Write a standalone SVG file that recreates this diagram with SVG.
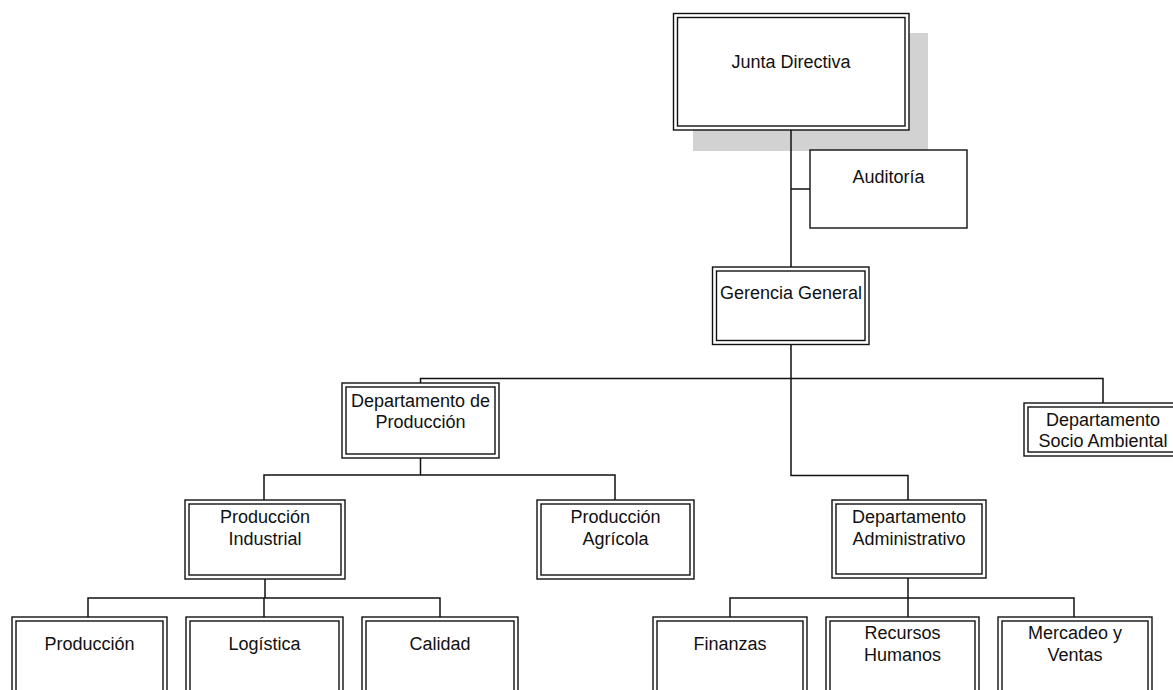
<svg xmlns="http://www.w3.org/2000/svg" width="1173" height="690" viewBox="0 0 1173 690">
  <style>
    .bg { fill: #ffffff; }
    .box { fill: #ffffff; stroke: #111111; stroke-width: 1.4; }
    .inner { fill: none; stroke: #111111; stroke-width: 1.4; }
    .shadow { fill: #d2d2d2; stroke: none; }
    .conn { fill: none; stroke: #111111; stroke-width: 1.5; }
    text { font-family: "Liberation Sans", Arial, sans-serif; font-size: 18px; fill: #111111; text-anchor: middle; }
  </style>
  <rect class="bg" x="0" y="0" width="1173" height="690"/>

  <!-- shadow behind the board box -->
  <rect class="shadow" x="693" y="33" width="235" height="118"/>

  <!-- connectors -->
  <g id="connectors">
    <path class="conn" d="M791,130 V267"/>
    <path class="conn" d="M791,189 H810"/>
    <path class="conn" d="M791,344 V475.5 H908 V500"/>
    <path class="conn" d="M420.5,383 V378.5 H1103 V403"/>
    <path class="conn" d="M420.5,458 V475 M264,500 V475 H615 V500"/>
    <path class="conn" d="M265,579 V598 M88,617 V598 H440 V617 M264,598 V617"/>
    <path class="conn" d="M908,578 V617 M730,617 V598 H1074 V617"/>
  </g>

  <g id="junta-directiva">
    <rect class="box" x="673.5" y="13.5" width="235.5" height="116.5"/>
    <rect class="inner" x="677.5" y="17.5" width="227.5" height="108.5"/>
    <text x="791" y="68">Junta Directiva</text>
  </g>

  <g id="auditoria">
    <rect class="box" x="810" y="150" width="157" height="78"/>
    <text x="888.5" y="183">Auditoría</text>
  </g>

  <g id="gerencia-general">
    <rect class="box" x="712.5" y="267" width="156.5" height="77.5"/>
    <rect class="inner" x="716.5" y="271" width="148.5" height="69.5"/>
    <text x="791" y="299">Gerencia General</text>
  </g>

  <g id="departamento-produccion">
    <rect class="box" x="342" y="383" width="157" height="75"/>
    <rect class="inner" x="346" y="387" width="149" height="67"/>
    <text x="420.5" y="406.5">Departamento de</text>
    <text x="420.5" y="428">Producción</text>
  </g>

  <g id="departamento-socio-ambiental">
    <rect class="box" x="1024" y="403" width="158" height="53"/>
    <rect class="inner" x="1028" y="407" width="150" height="45"/>
    <text x="1103" y="426">Departamento</text>
    <text x="1103" y="447">Socio Ambiental</text>
  </g>

  <g id="produccion-industrial">
    <rect class="box" x="185" y="500" width="160" height="79"/>
    <rect class="inner" x="189" y="504" width="152" height="71"/>
    <text x="265" y="522.5">Producción</text>
    <text x="265" y="545">Industrial</text>
  </g>

  <g id="produccion-agricola">
    <rect class="box" x="537" y="500" width="157" height="79"/>
    <rect class="inner" x="541" y="504" width="149" height="71"/>
    <text x="615.5" y="522.5">Producción</text>
    <text x="615.5" y="545">Agrícola</text>
  </g>

  <g id="departamento-administrativo">
    <rect class="box" x="832" y="500" width="154" height="78"/>
    <rect class="inner" x="836" y="504" width="146" height="70"/>
    <text x="909" y="522.5">Departamento</text>
    <text x="909" y="545">Administrativo</text>
  </g>

  <g id="produccion">
    <rect class="box" x="12" y="617" width="155" height="90"/>
    <rect class="inner" x="16" y="621" width="147" height="82"/>
    <text x="89.5" y="650">Producción</text>
  </g>

  <g id="logistica">
    <rect class="box" x="186" y="617" width="157" height="90"/>
    <rect class="inner" x="190" y="621" width="149" height="82"/>
    <text x="264.5" y="650">Logística</text>
  </g>

  <g id="calidad">
    <rect class="box" x="362" y="617" width="156" height="90"/>
    <rect class="inner" x="366" y="621" width="148" height="82"/>
    <text x="440" y="650">Calidad</text>
  </g>

  <g id="finanzas">
    <rect class="box" x="653" y="617" width="154" height="90"/>
    <rect class="inner" x="657" y="621" width="146" height="82"/>
    <text x="730" y="650">Finanzas</text>
  </g>

  <g id="recursos-humanos">
    <rect class="box" x="826" y="617" width="153" height="90"/>
    <rect class="inner" x="830" y="621" width="145" height="82"/>
    <text x="902.5" y="639">Recursos</text>
    <text x="902.5" y="660.5">Humanos</text>
  </g>

  <g id="mercadeo-ventas">
    <rect class="box" x="998" y="617" width="154" height="90"/>
    <rect class="inner" x="1002" y="621" width="146" height="82"/>
    <text x="1075" y="639">Mercadeo y</text>
    <text x="1075" y="660.5">Ventas</text>
  </g>
</svg>
